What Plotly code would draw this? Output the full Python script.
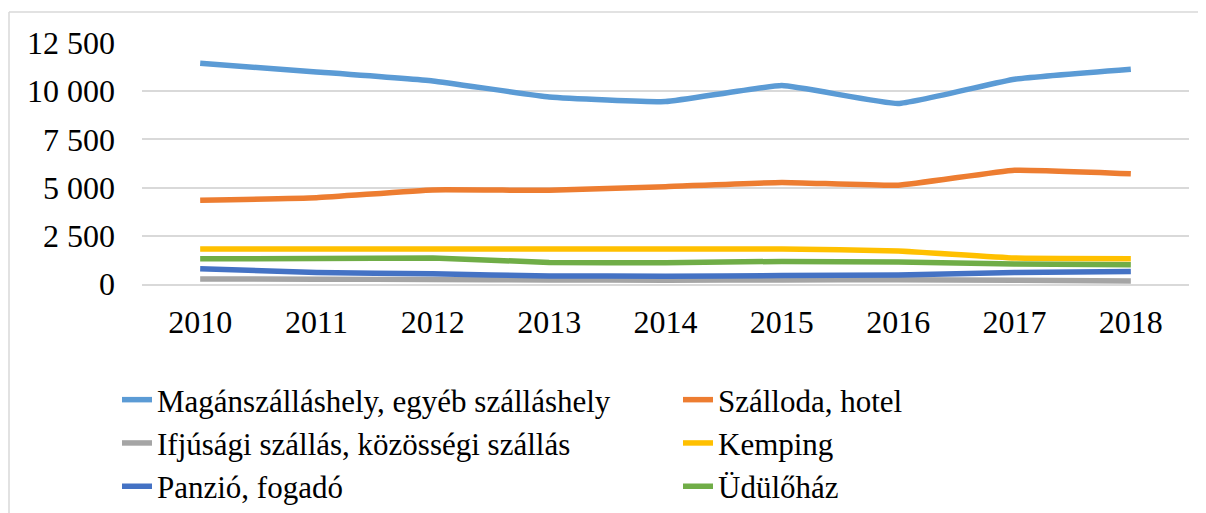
import plotly.graph_objects as go

years = ["2010", "2011", "2012", "2013", "2014", "2015", "2016", "2017", "2018"]

magan = [11450, 11000, 10530, 9700, 9460, 10290, 9360, 10620, 11140]
szalloda = [4340, 4480, 4880, 4860, 5050, 5270, 5120, 5900, 5720]
ifjusagi = [264, 250, 230, 210, 200, 210, 220, 194, 159]
kemping = [1818, 1818, 1818, 1818, 1818, 1818, 1713, 1347, 1312]
panzio = [788, 596, 526, 421, 403, 438, 473, 596, 648]
udulohaz = [1312, 1320, 1347, 1120, 1102, 1172, 1137, 1032, 997]

series_names = [
    "Magánszálláshely, egyéb szálláshely",
    "Szálloda, hotel",
    "Ifjúsági szállás, közösségi szállás",
    "Kemping",
    "Panzió, fogadó",
    "Üdülőház",
]
series_values = [magan, szalloda, ifjusagi, kemping, panzio, udulohaz]
series_colors = ["#5B9BD5", "#ED7D31", "#A5A5A5", "#FFC000", "#4472C4", "#70AD47"]
legend_column = ["legend", "legend2", "legend", "legend2", "legend", "legend2"]

y_tickvals = [0, 2500, 5000, 7500, 10000, 12500]
y_ticktext = ["0", "2 500", "5 000", "7 500", "10 000", "12 500"]

FONT = "Liberation Serif, Times New Roman, serif"

fig = go.Figure()
for name, vals, col, lg in zip(series_names, series_values, series_colors, legend_column):
    fig.add_trace(go.Scatter(
        x=years, y=vals, name=name, mode="lines",
        line=dict(color=col, width=5.5, shape="spline", smoothing=0.35),
        legend=lg,
    ))

# page body has an 8px default margin; figure runs to the window's right/bottom edge
W, H = 1198, 505
L, R, T, B = 134, 17, 35, 229
pw = W - L - R
ph = H - T - B

legend_common = dict(
    orientation="v",
    xref="container", yref="container",
    xanchor="left", yanchor="top",
    font=dict(family=FONT, size=31, color="black"),
    traceorder="normal",
    bgcolor="rgba(0,0,0,0)",
    itemwidth=30,
)

fig.update_layout(
    width=W, height=H,
    margin=dict(l=L, r=R, t=T, b=B, pad=0, autoexpand=False),
    paper_bgcolor="white",
    plot_bgcolor="white",
    font=dict(family=FONT, size=32, color="black"),
    showlegend=True,
    legend=dict(x=109 / W, y=1 - 365 / H, **legend_common),
    legend2=dict(x=670 / W, y=1 - 365 / H, **legend_common),
    xaxis=dict(
        type="category",
        range=[-0.5, 8.5],
        showgrid=False,
        showline=True, linecolor="#D9D9D9", linewidth=1.5,
        ticks="", tickfont=dict(family=FONT, size=32, color="black"),
        ticklabelstandoff=9,
        zeroline=False,
        automargin=False,
    ),
    yaxis=dict(
        range=[0, 12500],
        tickvals=y_tickvals, ticktext=y_ticktext,
        showgrid=True, gridcolor="#D9D9D9", gridwidth=1.5,
        zeroline=False, showline=False,
        ticks="", tickfont=dict(family=FONT, size=32, color="black"),
        ticklabelstandoff=26,
        automargin=False,
    ),
)

# chart frame: only the top and left edges are visible in the window
frame_x0 = (1 - L) / pw
frame_x1 = (W - L) / pw
frame_ytop = (T + ph - 4) / ph
frame_ybot = (T + ph - H) / ph
fig.add_shape(type="line", xref="paper", yref="paper",
              x0=frame_x0, x1=frame_x1, y0=frame_ytop, y1=frame_ytop,
              line=dict(color="#D9D9D9", width=1.5), layer="below")
fig.add_shape(type="line", xref="paper", yref="paper",
              x0=frame_x0, x1=frame_x0, y0=frame_ybot, y1=frame_ytop,
              line=dict(color="#D9D9D9", width=1.5), layer="below")

fig.write_html(
    "out.html",
    post_script="document.documentElement.style.overflow='hidden';"
                "document.body.style.overflow='hidden';",
)
